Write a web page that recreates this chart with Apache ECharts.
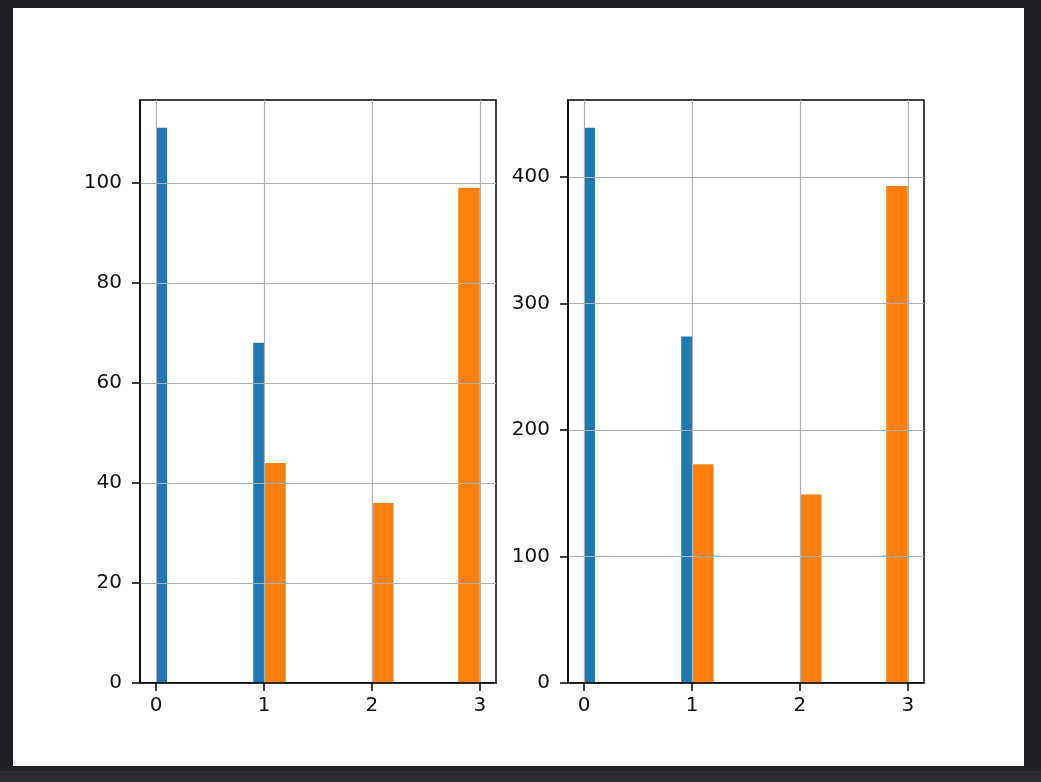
<!DOCTYPE html>
<html><head><meta charset="utf-8">
<script src="https://cdn.jsdelivr.net/npm/echarts@6/dist/echarts.min.js"></script>
<style>
html,body{margin:0;padding:0;width:1041px;height:782px;overflow:hidden;background:#1f2024;}
#bottom{position:absolute;left:0;top:771px;width:1041px;height:11px;background:#2b2c31;}
#paper{position:absolute;left:13px;top:8px;width:1011px;height:758px;background:#fff;}
#chart{position:absolute;left:0;top:0;width:1041px;height:782px;}
</style></head><body>
<div id="bottom"></div><div id="paper"></div><div id="chart"></div>
<script>
// tick labels
const xTicks = [0, 1, 2, 3];
const leftYTicks = [0, 20, 40, 60, 80, 100];
const rightYTicks = [0, 100, 200, 300, 400];
// histogram bins: [binStart, binEnd, count]
const leftBlue = [[0.0, 0.1, 111], [0.9, 1.0, 68]];
const leftOrange = [[1.0, 1.2, 44], [2.0, 2.2, 36], [2.8, 3.0, 99]];
const rightBlue = [[0.0, 0.1, 439], [0.9, 1.0, 274]];
const rightOrange = [[1.0, 1.2, 173], [2.0, 2.2, 149], [2.8, 3.0, 393]];

const BLUE = '#1f77b4', ORANGE = '#ff7f0e';
const font = {color: '#111', fontSize: 20, fontFamily: 'DejaVu Sans'};

function maxCount(a, b) { return Math.max(...a.map(d => d[2]), ...b.map(d => d[2])); }

function renderBar(params, api) {
  const p0 = api.coord([api.value(0), api.value(2)]);
  const p1 = api.coord([api.value(1), 0]);
  return {
    type: 'rect',
    shape: {x: p0[0], y: p0[1], width: p1[0] - p0[0], height: p1[1] - p0[1]},
    style: {fill: api.visual('color')}
  };
}

function xAxis(i) {
  return {
    type: 'value', gridIndex: i, min: -0.15, max: 3.15, splitNumber: 3, z: 5,
    axisLine: {show: true, onZero: false, lineStyle: {color: '#000', width: 1.5}},
    axisTick: {show: true, length: 8, customValues: xTicks, lineStyle: {color: '#000', width: 1.5}},
    axisLabel: Object.assign({customValues: xTicks, margin: 13, showMinLabel: true, showMaxLabel: true}, font),
    splitLine: {show: true, lineStyle: {color: '#b0b0b0', width: 1.2}}
  };
}
function yAxis(i, ticks, interval, maxV) {
  return {
    type: 'value', gridIndex: i, min: 0, max: maxV, interval: interval, z: 5,
    axisLine: {show: true, onZero: false, lineStyle: {color: '#000', width: 1.5}},
    axisTick: {show: true, length: 8, customValues: ticks, lineStyle: {color: '#000', width: 1.5}},
    axisLabel: Object.assign({customValues: ticks, margin: 18}, font),
    splitLine: {show: true, lineStyle: {color: '#b0b0b0', width: 1.2}}
  };
}
function bars(data, color, i) {
  return {
    type: 'custom', xAxisIndex: i, yAxisIndex: i, data: data, renderItem: renderBar,
    encode: {x: [0, 1], y: 2}, itemStyle: {color: color}, z: 1, silent: true
  };
}

const chart = echarts.init(document.getElementById('chart'), null, {renderer: 'canvas'});
const gridBase = {top: 100, width: 356, height: 583, show: true, borderColor: '#000', borderWidth: 1.5, backgroundColor: 'transparent', containLabel: false};
chart.setOption({
  animation: false,
  backgroundColor: 'transparent',
  grid: [Object.assign({left: 140}, gridBase), Object.assign({left: 568}, gridBase)],
  xAxis: [xAxis(0), xAxis(1)],
  yAxis: [
    yAxis(0, leftYTicks, 20, maxCount(leftBlue, leftOrange) * 1.05),
    yAxis(1, rightYTicks, 100, maxCount(rightBlue, rightOrange) * 1.05)
  ],
  series: [
    bars(leftBlue, BLUE, 0), bars(leftOrange, ORANGE, 0),
    bars(rightBlue, BLUE, 1), bars(rightOrange, ORANGE, 1)
  ]
});
</script>
</body></html>
